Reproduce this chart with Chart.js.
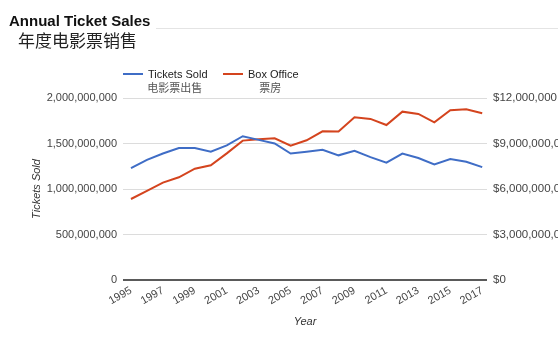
<!DOCTYPE html>
<html>
<head>
<meta charset="utf-8">
<script src="https://cdn.jsdelivr.net/npm/chart.js@4/dist/chart.umd.min.js"></script>
<style>
    html, body { margin: 0; padding: 0; background: #fff; }
    #wrap { width: 558px; height: 343px; position: relative; }
</style>
</head>
<body>
<div id="wrap"><canvas id="salesChart" width="558" height="343"></canvas></div>
<script>
/**
 * Annual ticket sales: tickets sold (left axis) and box office (right axis).
 */

const years = [1995, 1996, 1997, 1998, 1999, 2000, 2001, 2002, 2003, 2004, 2005, 2006,
    2007, 2008, 2009, 2010, 2011, 2012, 2013, 2014, 2015, 2016, 2017];

// tickets sold, in billions
const ticketsSold = [1.23, 1.32, 1.39, 1.45, 1.45, 1.41, 1.48, 1.58, 1.54, 1.50, 1.39, 1.41,
    1.43, 1.37, 1.42, 1.35, 1.29, 1.39, 1.34, 1.27, 1.33, 1.30, 1.24];

// box office, in billions of dollars
const boxOffice = [5.34, 5.87, 6.42, 6.77, 7.34, 7.56, 8.35, 9.19, 9.28, 9.34, 8.86, 9.21,
    9.80, 9.79, 10.73, 10.62, 10.22, 11.10, 10.95, 10.40, 11.19, 11.25, 10.99];

const yearTicks = [1995, 1997, 1999, 2001, 2003, 2005, 2007, 2009, 2011, 2013, 2015, 2017];
const ticketTicks = [0, 500000000, 1000000000, 1500000000, 2000000000];
const boxOfficeTicks = [0, 3000000000, 6000000000, 9000000000, 12000000000];

const BLUE = '#3f6dc6';
const RED = '#d4441e';
const FONT = 'Arial, "Liberation Sans", sans-serif';
const CJK = '"Noto Sans CJK SC", sans-serif';

const legendItems = [
    { label: 'Tickets Sold', sub: '电影票出售', color: BLUE, x: 123 },
    { label: 'Box Office', sub: '票房', color: RED, x: 223 }
];

function toPoints(values) {
    return values.map((v, i) => ({ x: years[i], y: v * 1e9 }));
}

// titles and the two-line legend are painted straight onto the canvas
const headerPlugin = {
    id: 'header',
    afterDraw(chart) {
        const ctx = chart.ctx;
        ctx.save();
        ctx.textBaseline = 'alphabetic';
        ctx.textAlign = 'left';

        ctx.fillStyle = '#111';
        ctx.font = 'bold 15px ' + FONT;
        ctx.fillText('Annual Ticket Sales', 9, 26);

        ctx.strokeStyle = '#e4e4e4';
        ctx.lineWidth = 1;
        ctx.beginPath();
        ctx.moveTo(156, 28.5);
        ctx.lineTo(558, 28.5);
        ctx.stroke();

        ctx.fillStyle = '#222';
        ctx.font = '17px ' + CJK;
        ctx.fillText('年度电影票销售', 18, 47);

        legendItems.forEach(item => {
            ctx.strokeStyle = item.color;
            ctx.lineWidth = 2;
            ctx.beginPath();
            ctx.moveTo(item.x, 74);
            ctx.lineTo(item.x + 20, 74);
            ctx.stroke();

            ctx.fillStyle = '#222';
            ctx.font = '11px ' + FONT;
            ctx.textAlign = 'left';
            const w = ctx.measureText(item.label).width;
            const tx = item.x + 25;
            ctx.fillText(item.label, tx, 78);

            ctx.fillStyle = '#555';
            ctx.font = '11px ' + CJK;
            ctx.textAlign = 'center';
            ctx.fillText(item.sub, tx + w / 2 - 3, 92);
        });
        ctx.restore();
    }
};

new Chart(document.getElementById('salesChart').getContext('2d'), {
    type: 'line',
    data: {
        datasets: [{
            label: 'Tickets Sold',
            data: toPoints(ticketsSold),
            borderColor: BLUE,
            backgroundColor: BLUE,
            borderWidth: 2,
            pointRadius: 0,
            tension: 0,
            yAxisID: 'y'
        }, {
            label: 'Box Office',
            data: toPoints(boxOffice),
            borderColor: RED,
            backgroundColor: RED,
            borderWidth: 2,
            pointRadius: 0,
            tension: 0,
            yAxisID: 'y1'
        }]
    },
    options: {
        responsive: false,
        animation: false,
        layout: {
            padding: { top: 98, left: 0, right: 0, bottom: 0 }
        },
        plugins: {
            legend: { display: false },
            tooltip: { enabled: false }
        },
        scales: {
            x: {
                type: 'linear',
                min: 1994.5,
                max: 2017.3,
                afterFit: s => { s.height = 63; },
                afterBuildTicks: s => { s.ticks = yearTicks.map(v => ({ value: v })); },
                grid: { display: false, drawTicks: false },
                border: { display: false },
                ticks: {
                    minRotation: 30,
                    maxRotation: 30,
                    autoSkip: false,
                    padding: 4,
                    color: '#444',
                    font: { family: FONT, size: 11 },
                    callback: v => String(v)
                },
                title: {
                    display: true,
                    text: 'Year',
                    color: '#333',
                    padding: { top: 0, bottom: 14 },
                    font: { family: FONT, size: 11, style: 'italic' }
                }
            },
            y: {
                position: 'left',
                min: 0,
                max: 2000000000,
                afterFit: s => { s.width = 123; },
                afterBuildTicks: s => { s.ticks = ticketTicks.map(v => ({ value: v })); },
                grid: {
                    drawTicks: false,
                    color: c => c.tick && c.tick.value === 0 ? '#5a5a5a' : '#dcdcdc',
                    lineWidth: c => c.tick && c.tick.value === 0 ? 2 : 1
                },
                border: { display: false },
                ticks: {
                    padding: 6,
                    color: '#444',
                    font: { family: FONT, size: 11 },
                    callback: v => v.toLocaleString('en-US')
                },
                title: {
                    display: true,
                    text: 'Tickets Sold',
                    color: '#333',
                    padding: { top: 30, bottom: 0 },
                    font: { family: FONT, size: 11, style: 'italic' }
                }
            },
            y1: {
                position: 'right',
                min: 0,
                max: 12000000000,
                afterFit: s => { s.width = 71; },
                afterBuildTicks: s => { s.ticks = boxOfficeTicks.map(v => ({ value: v })); },
                grid: { display: false, drawTicks: false },
                border: { display: false },
                ticks: {
                    padding: 6,
                    color: '#444',
                    font: { family: FONT, size: 11.5 },
                    callback: v => '$' + v.toLocaleString('en-US')
                }
            }
        }
    },
    plugins: [headerPlugin]
});
</script>
</body>
</html>
